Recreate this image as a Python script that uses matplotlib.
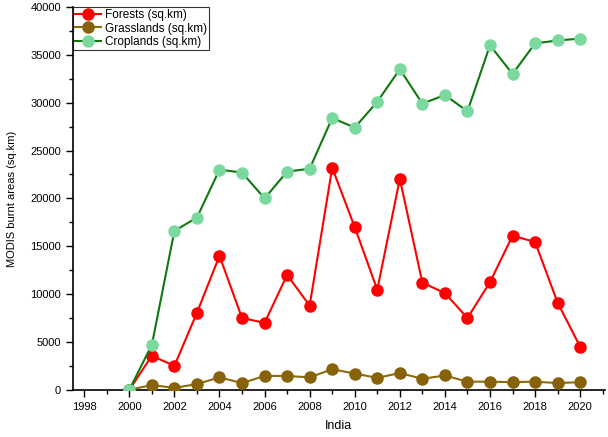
import matplotlib
matplotlib.use("Agg")
import matplotlib.pyplot as plt
from matplotlib.ticker import MultipleLocator

years = list(range(2000, 2021))
forests = [0, 3550, 2500, 8050, 14000, 7500, 7000, 12000, 8800, 23200, 17000,
           10450, 22050, 11200, 10100, 7500, 11250, 16100, 15450, 9100, 4500]
grasslands = [0, 500, 200, 600, 1300, 700, 1450, 1450, 1300, 2150, 1700,
              1250, 1750, 1150, 1500, 850, 850, 800, 850, 700, 800]
croplands = [0, 4700, 16600, 18000, 23000, 22700, 20000, 22800, 23100, 28400, 27400,
             30100, 33500, 29900, 30800, 29100, 36000, 33000, 36200, 36500, 36700]

plt.rcParams['font.family'] = ['Liberation Sans', 'DejaVu Sans']

fig = plt.figure(figsize=(6.08, 4.37), dpi=100)
ax = fig.add_axes([0.120, 0.108, 0.875, 0.876])

ax.plot(years, forests, '-o', color='#FF0000', mfc='#FF0000', mec='#FF0000',
        lw=1.5, ms=8, label='Forests (sq.km)', zorder=3)
ax.plot(years, grasslands, '-o', color='#8C6A0A', mfc='#876209', mec='#876209',
        lw=1.5, ms=8, label='Grasslands (sq.km)', zorder=3)
ax.plot(years, croplands, '-o', color='#0E7A0E', mfc='#7BD9A0', mec='#7BD9A0',
        lw=1.5, ms=8, label='Croplands (sq.km)', zorder=4)

ax.set_xlim(1997.5, 2021.1)
ax.set_ylim(0, 40000)
ax.xaxis.set_major_locator(MultipleLocator(2))
ax.xaxis.set_minor_locator(MultipleLocator(1))
ax.yaxis.set_major_locator(MultipleLocator(5000))
ax.yaxis.set_minor_locator(MultipleLocator(2500))
ax.tick_params(which='major', direction='out', length=5, width=1, labelsize=8, colors='black')
ax.tick_params(which='minor', direction='out', length=3, width=1)
for s in ['top', 'right']:
    ax.spines[s].set_visible(False)
for s in ['left', 'bottom']:
    ax.spines[s].set_linewidth(1.2)

ax.set_xlabel('India', fontsize=9, labelpad=6)
ax.set_ylabel('MODIS burnt areas (sq.km)', fontsize=8, labelpad=10)

leg = ax.legend(loc='upper left', bbox_to_anchor=(0.0, 1.0), fontsize=8.5,
                frameon=True, fancybox=False, edgecolor='black', borderaxespad=0,
                handlelength=2.2, handletextpad=0.3, borderpad=0.2, labelspacing=0.1)
leg.get_frame().set_linewidth(0.8)

fig.savefig('out.png', dpi=100)
